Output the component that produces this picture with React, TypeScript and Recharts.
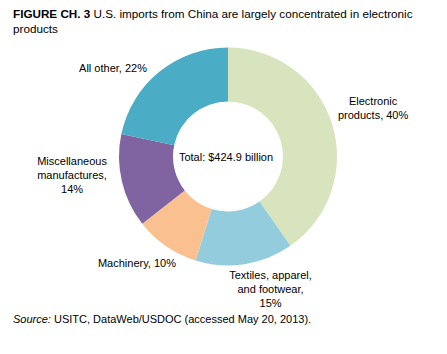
import React from 'react';
import { PieChart, Pie, Cell } from 'recharts';

// Import shares (percent of total)
const categories = ['Electronic products', 'Textiles, apparel, and footwear', 'Machinery', 'Miscellaneous manufactures', 'All other'];
const shares = [40.3, 14.5, 9.6, 13.9, 21.7];
const labelLines = [
  ['Electronic', 'products, 40%'],
  ['Textiles, apparel,', 'and footwear,', '15%'],
  ['Machinery, 10%'],
  ['Miscellaneous', 'manufactures,', '14%'],
  ['All other, 22%'],
];
const totalLabel = 'Total: $424.9 billion';

const COLORS = ['#D7E4BD', '#93CDDD', '#FAC090', '#8064A2', '#4BACC6'];
// per-slice label placement: extra radius beyond the ring, and clockwise angle shift
const LABEL_PAD = [44, 30, 31, 48, 36];
const LABEL_SHIFT = [1, 9, -6, -6.5, 13.4];

const FONT = '"Liberation Sans", Arial, sans-serif';
const RAD = Math.PI / 180;

const data = categories.map((name, i) => ({ name, value: shares[i] }));

function SliceLabel(props: any) {
  const { cx, cy, midAngle, outerRadius, index } = props;
  const a = (midAngle + LABEL_SHIFT[index]) * RAD;
  const r = outerRadius + LABEL_PAD[index];
  const x = cx + r * Math.cos(a);
  const y = cy - r * Math.sin(a);
  const lines = labelLines[index];
  const lh = 14;
  const y0 = y - ((lines.length - 1) * lh) / 2;
  return (
    <g>
      <text x={x} y={y0} textAnchor="middle" dominantBaseline="central" fontSize={11} fontFamily={FONT} fill="#000">
        {lines.map((l, k) => (
          <tspan key={k} x={x} y={y0 + k * lh}>{l}</tspan>
        ))}
      </text>
      {index === 0 && (
        <text x={cx - 2} y={cy} textAnchor="middle" dominantBaseline="central" fontSize={11} fontFamily={FONT} fill="#000">
          {totalLabel}
        </text>
      )}
    </g>
  );
}

export default function App() {
  return (
    <div style={{ position: 'absolute', left: 0, top: 0, width: 447, height: 354, background: '#fff', fontFamily: FONT }}>
      <div style={{ position: 'absolute', left: 13, top: 6, width: 434, fontSize: 11.7, lineHeight: '15px', color: '#000' }}>
        <b>FIGURE CH. 3</b> U.S. imports from China are largely concentrated in electronic<br />products
      </div>
      <PieChart width={447} height={354} margin={{ top: 0, right: 0, bottom: 0, left: 0 }} style={{ position: 'absolute', left: 0, top: 0 }}>
        <Pie
          data={data}
          dataKey="value"
          cx={228}
          cy={156.5}
          innerRadius={55}
          outerRadius={109}
          startAngle={90}
          endAngle={-270}
          stroke="none"
          label={SliceLabel}
          labelLine={false}
          isAnimationActive={false}
        >
          {data.map((entry, index) => (
            <Cell key={`cell-${index}`} fill={COLORS[index]} />
          ))}
        </Pie>
      </PieChart>
      <div style={{ position: 'absolute', left: 13, top: 313, fontSize: 11, color: '#000' }}>
        <i>Source:</i> USITC, DataWeb/USDOC (accessed May 20, 2013).
      </div>
    </div>
  );
}
